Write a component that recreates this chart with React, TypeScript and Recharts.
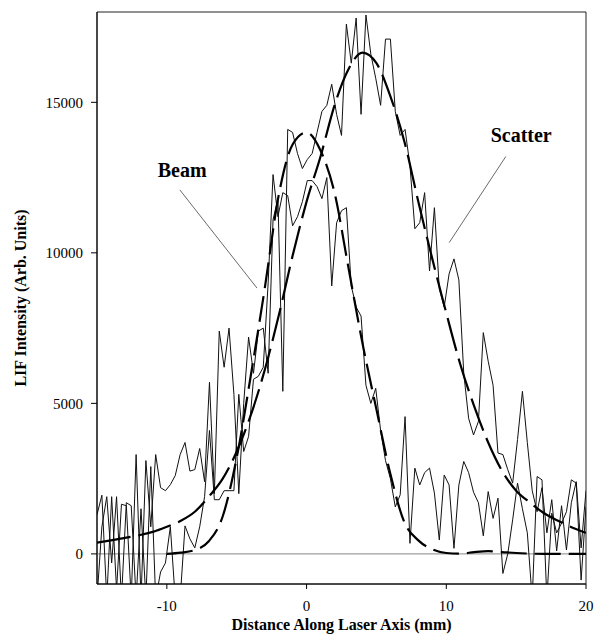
import React from 'react';
import {
  LineChart,
  Line,
  XAxis,
  YAxis,
  ReferenceLine,
  ReferenceArea,
  ReferenceDot,
  Label,
} from 'recharts';

// measured signal, sampled every 0.35 mm from -15 mm
const SAMPLE_START_MM = -15;
const SAMPLE_STEP_MM = 0.35;

const scatterSignal = [
  1300, 1950, -1500, 1900, -1200, 1650, 1600, -1500, 3300, -1500,
  3100, 900, 3300, 2200, 2100, 2300, 2600, 3300, 3700, 2750,
  2800, 3500, 2400, 5700, 2000, 7400, 6200, 7500, 5300, 2000,
  5000, 7200, 6000, 7400, 7500, 6000, 11100, 11800, 5400, 14100,
  14000, 13300, 12800, 13100, 13300, 14000, 14700, 14900, 15600, 14600,
  13900, 17600, 16300, 17800, 14600, 17900, 16600, 15800, 14900, 17100,
  17100, 14700, 13900, 14100, 12900, 10800, 11000, 12000, 9400, 11500,
  8800, 8200, 9300, 9800, 9100, 6000, 4500, 3950, 4400, 7350,
  6400, 5600, 3350, 3300, 2800, 2350, 3800, 5400, 3700, 2100,
  1400, 2200, 700, 1800, 100, 1600, 130, 1700, 2400, 200,
  2100,
];

const beamSignal = [
  -1500, 900, 1900, -300, 1900, -1500, 1700, 1600, -1500, 1500,
  -1500, 2900, -1500, -600, -300, 900, -1500, -1500, 930, 500,
  200, 900, 1900, 4100, 1800, 1800, 2100, 2100, 2100, 5300,
  3400, 3900, 5800, 5900, 6200, 9000, 12600, 11200, 12000, 11900,
  10900, 11200, 11700, 12400, 12400, 12200, 11800, 12500, 8900, 11000,
  11400, 11500, 8900, 8200, 7900, 5600, 5000, 5500, 4100, 3100,
  2500, 1560, 1960, 4560, 350, 2850, 2290, 2700, 2850, 2020,
  460, 2620, 2290, 185, 2290, 3070, 2700, 2050, 1700, 600,
  2070, 1180, 1850, -650, 0, 1130, 2350, 1500, 700, -1500,
  2570, 2460, -1500, 1350, 700, 1020, 1400, 2460, 2350, -870,
  1570,
];

// fitted profiles, read at whole millimetres
const scatterFitX = [
  -15, -14, -13, -12, -11, -10, -9, -8, -7, -6, -5, -4, -3, -2, -1, 0, 1, 2,
  3, 4, 5, 6, 7, 8, 9, 10, 11, 12, 13, 14, 15, 16, 17, 18, 19, 20,
];
const scatterFitY = [
  375, 450, 530, 620, 730, 900, 1100, 1400, 1900, 2500, 3400, 4600, 6100, 7900,
  9900, 11700, 13200, 14900, 16100, 16650, 16300, 15200, 13700, 11700, 9800,
  8000, 6300, 4900, 3700, 2750, 2100, 1700, 1350, 1100, 880, 700,
];

const beamFitX = [
  -10, -9, -8, -7, -6, -5, -4, -3, -2, -1, 0, 1, 2, 3, 4, 5, 6, 7, 8, 9, 10,
  11, 12, 13, 14, 15, 16, 17, 18, 19, 20,
];
const beamFitY = [
  0, 40, 130, 420, 1250, 3200, 5900, 8800, 11900, 13600, 14000, 13400, 12000,
  9500, 7000, 4800, 2650, 1050, 450, 150, 30, 10, 60, 90, 60, 30, 10, 0, 0, 0, 0,
];

const xTicks = [-10, 0, 10, 20];
const yTicks = [0, 5000, 10000, 15000];

const signalRows = scatterSignal.map((v, i) => ({
  x: +(SAMPLE_START_MM + i * SAMPLE_STEP_MM).toFixed(2),
  scatter: v,
  beam: beamSignal[i],
}));
const scatterFitRows = scatterFitX.map((x, i) => ({ x, fit: scatterFitY[i] }));
const beamFitRows = beamFitX.map((x, i) => ({ x, fit: beamFitY[i] }));

const FONT = '"Liberation Serif", "Times New Roman", serif';
const tickStyle = { fontFamily: FONT, fontSize: 15, fill: '#000' };

const YTitle = ({ viewBox }: any) => {
  const x = viewBox.x + 26;
  const y = viewBox.y + viewBox.height / 2;
  return (
    <text
      x={x}
      y={y}
      transform={`rotate(-90, ${x}, ${y})`}
      textAnchor="middle"
      fontFamily={FONT}
      fontSize={16}
      fontWeight="bold"
      fill="#000"
    >
      LIF Intensity (Arb. Units)
    </text>
  );
};

export default function App() {
  return (
    <div style={{ position: 'absolute', left: 0, top: 0, background: '#fff' }}>
      <LineChart
        width={595}
        height={643}
        margin={{ top: 12, right: 9, bottom: 0, left: 0 }}
      >
        <XAxis
          dataKey="x"
          type="number"
          domain={[-15, 20]}
          ticks={xTicks}
          allowDataOverflow
          height={59}
          tick={tickStyle}
          tickSize={5}
          tickMargin={11}
          stroke="#000"
        >
          <Label
            value="Distance Along Laser Axis (mm)"
            position="insideBottom"
            offset={13}
            style={{ fontFamily: FONT, fontSize: 16, fontWeight: 'bold', fill: '#000' }}
          />
        </XAxis>
        <YAxis
          type="number"
          domain={[-1000, 18000]}
          ticks={yTicks}
          allowDataOverflow
          width={97}
          tick={tickStyle}
          tickSize={6}
          tickMargin={8}
          stroke="#000"
          label={{ content: YTitle }}
        />
        <ReferenceArea
          x1={-15}
          x2={20}
          y1={-1000}
          y2={18000}
          fill="none"
          stroke="#222"
          strokeWidth={1}
        />
        <ReferenceLine y={0} stroke="#888" strokeWidth={1} />

        <Line
          data={signalRows}
          dataKey="scatter"
          type="linear"
          stroke="#111"
          strokeWidth={1}
          dot={false}
          isAnimationActive={false}
        />
        <Line
          data={signalRows}
          dataKey="beam"
          type="linear"
          stroke="#111"
          strokeWidth={1}
          dot={false}
          isAnimationActive={false}
        />
        <Line
          data={scatterFitRows}
          dataKey="fit"
          type="monotone"
          stroke="#000"
          strokeWidth={2.2}
          strokeDasharray="34 8"
          dot={false}
          isAnimationActive={false}
        />
        <Line
          data={beamFitRows}
          dataKey="fit"
          type="monotone"
          stroke="#000"
          strokeWidth={2.2}
          strokeDasharray="26 8"
          dot={false}
          isAnimationActive={false}
        />

        <ReferenceLine
          segment={[{ x: -9.07, y: 12090 }, { x: -3.55, y: 8830 }]}
          stroke="#444"
          strokeWidth={0.8}
        />
        <ReferenceLine
          segment={[{ x: 14.26, y: 13200 }, { x: 10.21, y: 10340 }]}
          stroke="#444"
          strokeWidth={0.8}
        />
        <ReferenceDot
          x={-8.9}
          y={12760}
          r={0}
          fill="none"
          stroke="none"
          label={{ value: 'Beam', position: 'center', fontFamily: FONT, fontSize: 20, fontWeight: 'bold', fill: '#000' }}
        />
        <ReferenceDot
          x={15.36}
          y={13920}
          r={0}
          fill="none"
          stroke="none"
          label={{ value: 'Scatter', position: 'center', fontFamily: FONT, fontSize: 20, fontWeight: 'bold', fill: '#000' }}
        />
      </LineChart>
    </div>
  );
}
